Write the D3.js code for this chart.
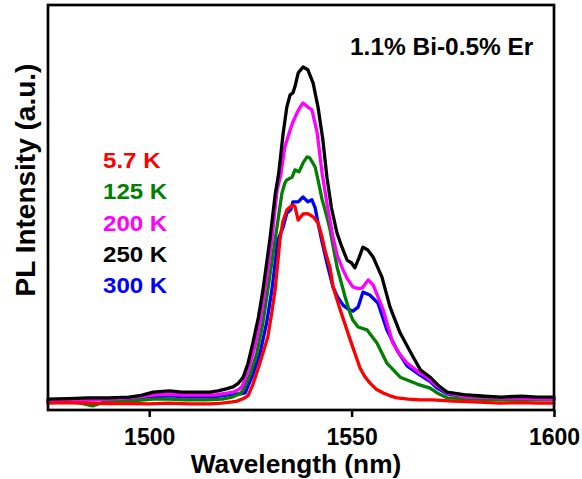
<!DOCTYPE html>
<html>
<head>
<meta charset="utf-8">
<script src="https://cdn.jsdelivr.net/npm/d3@7"></script>
<style>
  html, body { margin: 0; padding: 0; background: #fff; }
  svg text { font-family: "Liberation Sans", Arial, Helvetica, sans-serif; font-weight: bold; }
</style>
</head>
<body>
<svg id="chart" width="582" height="479"></svg>
<script>
// ---- data (wavelength nm, PL intensity a.u.) ----
const xTicks = [1500, 1550, 1600];
const titleText = "1.1% Bi-0.5% Er";
const xLabel = "Wavelength (nm)";
const yLabel = "PL Intensity (a.u.)";

const legendLabels = ["5.7 K", "125 K", "200 K", "250 K", "300 K"];
const legendColors = ["#ff0000", "#008000", "#ff00ff", "#000000", "#0000ff"];

const series5K = [[1475,1.7],[1480,1.8],[1485,1.7],[1490,1.6],[1495,1.6],[1500,1.5],[1505,1.7],[1510,1.5],[1515,1.5],[1518,1.7],[1520.5,2.0],[1521.7,2.2],[1523,2.7],[1524.4,3.5],[1525.5,6],[1527,10.5],[1528.1,14.1],[1529.3,18.0],[1530.2,23.5],[1531.1,29.6],[1532.3,42.0],[1533.0,46.5],[1534.0,49.4],[1534.8,50.1],[1535.5,50.6],[1536.0,50.3],[1536.8,46.9],[1538.0,48.4],[1539.2,48.5],[1540.5,47.7],[1541.7,46.2],[1542.7,42.7],[1543.4,39.5],[1544.7,35.0],[1545.4,30.5],[1547.1,25],[1549.6,17.5],[1552.1,10.3],[1553.3,8.2],[1554.5,6.7],[1556,5.2],[1557.8,4.2],[1559.5,3.5],[1561.2,3.0],[1564,2.7],[1566.9,2.5],[1570,2.5],[1575,2.2],[1580,2.0],[1586.7,1.7],[1592,1.8],[1596,1.7],[1600,1.7]];

const series125K = [[1475,2.0],[1480,2.0],[1483,1.7],[1486,1.0],[1489,2.0],[1495,2.2],[1501,2.7],[1505,2.7],[1509,2.5],[1514,2.5],[1518,2.7],[1520.5,3.2],[1522.4,4.0],[1523.2,4.9],[1525,9],[1526.6,14.1],[1528,21],[1529.3,29.6],[1531.1,42.0],[1532.8,53.6],[1533.5,56.0],[1534.0,56.8],[1535.3,57.5],[1536.0,59.3],[1537.0,58.8],[1538.0,61.0],[1539.0,62.5],[1539.7,62.2],[1541.0,60.0],[1541.7,56.8],[1542.7,52.0],[1543.9,47.7],[1544.7,44.4],[1546.4,35.3],[1548.4,27.9],[1549.6,24.0],[1550.3,22.2],[1551.6,20.5],[1553.8,19.8],[1556.3,16.5],[1558.7,11.6],[1562.0,8.1],[1566.2,6.4],[1569.4,5.4],[1571.5,4.0],[1573.6,3.0],[1580,2.7],[1587,2.5],[1593,2.5],[1600,2.5]];

const series200K = [[1475,2.2],[1480,2.4],[1485,2.5],[1490,2.7],[1495,3.0],[1498,3.3],[1501,3.7],[1505,3.9],[1508,3.7],[1512,3.7],[1516,3.7],[1518,4.0],[1520.7,4.4],[1522,5.0],[1522.9,5.7],[1524.5,10],[1526.1,15.6],[1527.5,22.5],[1528.6,29.6],[1530.3,42.0],[1531.6,54.3],[1532.5,58],[1533.5,64.9],[1534.8,69.1],[1535.5,71.1],[1536.5,73.3],[1537.3,74.8],[1538.0,75.8],[1539.2,74.8],[1540.2,74.1],[1541.5,68.4],[1542.7,58.5],[1544,50.5],[1545.4,42.7],[1546.5,38],[1547.9,34.6],[1549,32.3],[1550.3,30.4],[1551.5,30.0],[1552.6,30.1],[1554.1,32.1],[1555.3,30.9],[1556.5,28],[1557.8,24.7],[1560.2,16.5],[1562,13.6],[1563.7,11.6],[1566.9,9.1],[1568.6,8.1],[1571,6.0],[1573.6,4.2],[1578.5,3.2],[1583,3.1],[1587,3.0],[1593,2.9],[1600,2.7]];

const series250K = [[1475,2.7],[1480,2.8],[1485,3.0],[1490,3.0],[1495,3.2],[1498,3.6],[1501,4.4],[1505,4.7],[1508,4.4],[1511,4.4],[1515,4.4],[1517,4.7],[1519,5.2],[1520.7,5.7],[1522,6.6],[1523.2,8.1],[1524.4,11.5],[1525.6,16.5],[1527,23],[1528.1,29.6],[1529.8,42.0],[1531.1,53.0],[1532,58.5],[1533.1,68.4],[1534.0,74.8],[1534.8,77.8],[1535.5,78.3],[1536.0,79.8],[1536.8,83.2],[1538.0,84.7],[1539.2,84.0],[1540.5,80.7],[1541.7,74.8],[1542.9,66.7],[1543.9,57.5],[1545.0,50],[1546.4,43.7],[1547.5,40.5],[1548.9,37.0],[1550.0,36.3],[1550.8,35.1],[1551.8,37.5],[1552.8,40.2],[1554,39.5],[1555.3,37.8],[1557.5,32.8],[1559.5,25.4],[1562.0,19.0],[1565.2,13.1],[1567,9.9],[1569.4,8.1],[1571.5,6.0],[1573.6,4.4],[1578.5,3.7],[1583,3.4],[1587,3.2],[1592,3.4],[1596,3.2],[1600,3.2]];

const series300K = [[1475,2.2],[1480,2.4],[1485,2.5],[1490,2.7],[1495,2.9],[1500,3.2],[1505,3.5],[1510,3.2],[1515,3.2],[1518,3.5],[1520.7,4.0],[1522.5,4.0],[1523.7,4.2],[1525.5,8.5],[1527.4,14.1],[1529,21.5],[1530.3,29.6],[1531.8,42.0],[1533.1,45.2],[1534.0,48.6],[1535.0,49.5],[1535.5,51.4],[1536.8,51.4],[1538.0,52.6],[1539.2,51.4],[1540.2,51.9],[1541.0,49.9],[1541.7,46.2],[1542.7,41.5],[1543.9,36.3],[1545.4,30.4],[1546.5,28],[1547.9,25.9],[1549,25.0],[1550.3,24.4],[1551.6,25.4],[1552.8,29.1],[1554.5,28.4],[1556.5,26.4],[1558.7,19.8],[1561.2,14.8],[1563.7,10.9],[1566.9,8.6],[1569.4,7.0],[1571,5.5],[1573.6,4.0],[1578.5,3.2],[1583,3.1],[1587,3.0],[1593,2.9],[1600,2.7]];

// drawing order (back to front)
const drawOrder = [
  {data: series300K, color: "#0000ff"},
  {data: series125K, color: "#008000"},
  {data: series200K, color: "#ff00ff"},
  {data: series250K, color: "#000000"},
  {data: series5K,   color: "#ff0000"}
];

// ---- layout ----
const L = 48, R = 554, T = 5, B = 410;
const svg = d3.select("#chart");
const x = d3.scaleLinear().domain([1475, 1600]).range([L, R]);
const y = d3.scaleLinear().domain([0, 100]).range([B, T]);

const line = d3.line().x(d => x(d[0])).y(d => y(d[1]));

const plot = svg.append("g");
drawOrder.forEach(s => {
  plot.append("path")
    .datum(s.data)
    .attr("d", line)
    .attr("fill", "none")
    .attr("stroke", s.color)
    .attr("stroke-width", 3.3)
    .attr("stroke-linejoin", "round")
    .attr("stroke-linecap", "round");
});

// frame
svg.append("rect")
  .attr("x", L).attr("y", T).attr("width", R - L).attr("height", B - T)
  .attr("fill", "none").attr("stroke", "#000").attr("stroke-width", 2.7);

// bottom axis
const xAxis = svg.append("g")
  .attr("transform", `translate(0,${B})`)
  .call(d3.axisBottom(x).tickValues(xTicks).tickSize(7).tickFormat(d3.format("d")));
xAxis.select(".domain").remove();
xAxis.selectAll(".tick line").attr("stroke", "#000").attr("stroke-width", 2.5);
xAxis.selectAll(".tick text")
  .attr("y", 35).attr("dy", null)
  .attr("fill", "#000")
  .style("font-size", "23px")
  .style("font-family", '"Liberation Sans", Arial, sans-serif')
  .style("font-weight", "bold");

// axis titles
svg.append("text")
  .attr("transform", "translate(296,473) scale(1.05,1)")
  .attr("text-anchor", "middle")
  .style("font-size", "25px")
  .text(xLabel);

svg.append("text")
  .attr("transform", "translate(35,180) rotate(-90)")
  .attr("text-anchor", "middle")
  .style("font-size", "28px")
  .text(yLabel);

// title
svg.append("text")
  .attr("transform", "translate(350,55) scale(1.04,1)")
  .style("font-size", "23.5px")
  .text(titleText);

// legend
legendLabels.forEach((lab, i) => {
  svg.append("text")
    .attr("transform", `translate(103,${168 + i * 31.3}) scale(1.12,1)`)
    .attr("fill", legendColors[i])
    .style("font-size", "21.5px")
    .text(lab);
});
</script>
</body>
</html>
